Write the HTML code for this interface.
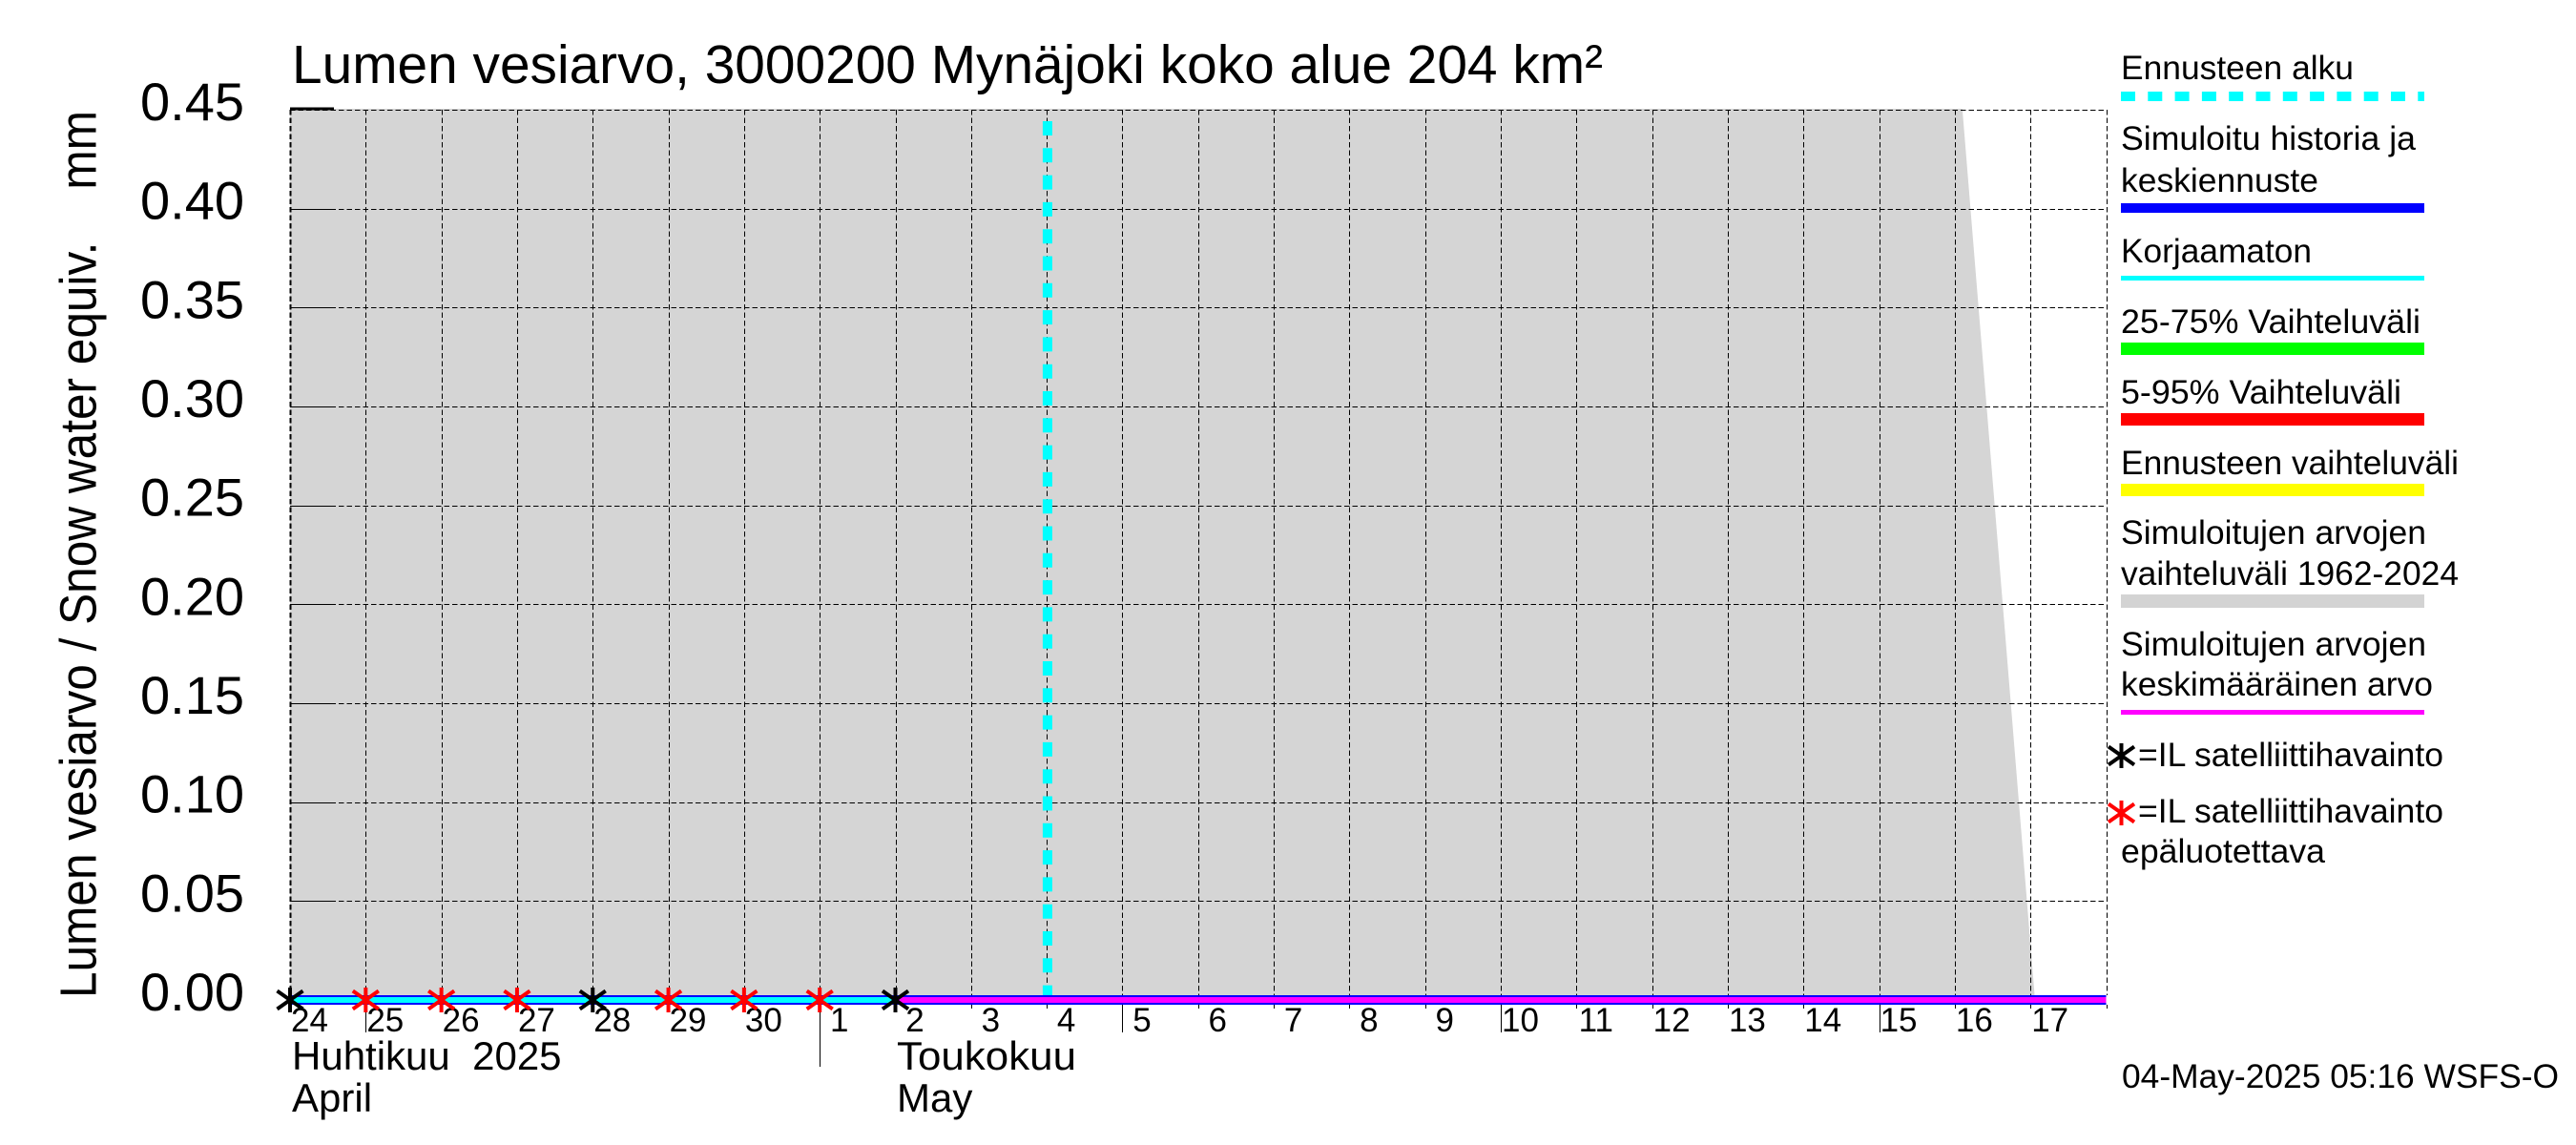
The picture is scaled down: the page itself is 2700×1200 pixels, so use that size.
<!DOCTYPE html>
<html lang="fi">
<head>
<meta charset="utf-8">
<title>Lumen vesiarvo</title>
<style>
html,body{margin:0;padding:0;background:#fff;width:2700px;height:1200px;overflow:hidden}
svg{display:block;position:absolute;left:0;top:0}
text{font-family:"Liberation Sans",Arial,sans-serif;fill:#000;white-space:pre}
</style>
</head>
<body>
<svg id="chart" xmlns="http://www.w3.org/2000/svg" width="2700" height="1200" viewBox="0 0 2700 1200">
  <text x="306" y="87" font-size="57" textLength="1374" lengthAdjust="spacingAndGlyphs">Lumen vesiarvo, 3000200 Mynäjoki koko alue 204 km²</text>
  <text transform="translate(100.5,1046) rotate(-90)" font-size="54" textLength="930" lengthAdjust="spacingAndGlyphs">Lumen vesiarvo / Snow water equiv.    mm</text>
  <g id="plot"></g>
  <g id="legend">
    <text x="2223" y="83" font-size="35" textLength="244" lengthAdjust="spacingAndGlyphs">Ennusteen alku</text>
    <line x1="2223" x2="2541" y1="101" y2="101" stroke="#00ffff" stroke-width="10" stroke-dasharray="15 13.3"/>
    <text x="2223" y="157" font-size="35" textLength="309" lengthAdjust="spacingAndGlyphs">Simuloitu historia ja</text>
    <text x="2223" y="201" font-size="35" textLength="207" lengthAdjust="spacingAndGlyphs">keskiennuste</text>
    <rect x="2223" y="213" width="318" height="10" fill="#0000ff"/>
    <text x="2223" y="275" font-size="35" textLength="200" lengthAdjust="spacingAndGlyphs">Korjaamaton</text>
    <rect x="2223" y="289" width="318" height="5" fill="#00ffff"/>
    <text x="2223" y="349" font-size="35" textLength="314" lengthAdjust="spacingAndGlyphs">25-75% Vaihteluväli</text>
    <rect x="2223" y="359" width="318" height="13" fill="#00ff00"/>
    <text x="2223" y="423" font-size="35" textLength="294" lengthAdjust="spacingAndGlyphs">5-95% Vaihteluväli</text>
    <rect x="2223" y="433" width="318" height="13" fill="#ff0000"/>
    <text x="2223" y="497" font-size="35" textLength="354" lengthAdjust="spacingAndGlyphs">Ennusteen vaihteluväli</text>
    <rect x="2223" y="507" width="318" height="13" fill="#ffff00"/>
    <text x="2223" y="570" font-size="35" textLength="320" lengthAdjust="spacingAndGlyphs">Simuloitujen arvojen</text>
    <text x="2223" y="613" font-size="35" textLength="354" lengthAdjust="spacingAndGlyphs">vaihteluväli 1962-2024</text>
    <rect x="2223" y="623" width="318" height="14" fill="#d3d3d3"/>
    <text x="2223" y="687" font-size="35" textLength="320" lengthAdjust="spacingAndGlyphs">Simuloitujen arvojen</text>
    <text x="2223" y="729" font-size="35" textLength="327" lengthAdjust="spacingAndGlyphs">keskimääräinen arvo</text>
    <rect x="2223" y="744" width="318" height="5" fill="#ff00ff"/>
    <g stroke="#000" stroke-width="4">
      <line x1="2223.5" x2="2223.5" y1="779" y2="805"/>
      <line x1="2210" x2="2237" y1="782.5" y2="801.5"/>
      <line x1="2210" x2="2237" y1="801.5" y2="782.5"/>
    </g>
    <text x="2241" y="803" font-size="35" textLength="320" lengthAdjust="spacingAndGlyphs">=IL satelliittihavainto</text>
    <g stroke="#ff0000" stroke-width="4">
      <line x1="2223.5" x2="2223.5" y1="839" y2="865"/>
      <line x1="2210" x2="2237" y1="842.5" y2="861.5"/>
      <line x1="2210" x2="2237" y1="861.5" y2="842.5"/>
    </g>
    <text x="2241" y="862" font-size="35" textLength="320" lengthAdjust="spacingAndGlyphs">=IL satelliittihavainto</text>
    <text x="2223" y="904" font-size="35" textLength="214" lengthAdjust="spacingAndGlyphs">epäluotettava</text>
  </g>
  <text x="306" y="1121" font-size="42">Huhtikuu  2025</text>
  <text x="306" y="1165" font-size="42">April</text>
  <text x="940" y="1121" font-size="42" textLength="188" lengthAdjust="spacingAndGlyphs">Toukokuu</text>
  <text x="940" y="1165" font-size="42">May</text>
  <text x="2224" y="1140" font-size="35" textLength="458" lengthAdjust="spacingAndGlyphs">04-May-2025 05:16 WSFS-O</text>
</svg>
<script>
// Axis content
const dayLabels = [24,25,26,27,28,29,30,1,2,3,4,5,6,7,8,9,10,11,12,13,14,15,16,17];
const longTickLabels = [25,5,10,15];
const monthBoundaryLabels = [1];
const yTickLabels = ["0.45","0.40","0.35","0.30","0.25","0.20","0.15","0.10","0.05","0.00"];
const yTickValues = [0.45,0.40,0.35,0.30,0.25,0.20,0.15,0.10,0.05,0.00];

// Series, x values are days since 24 April
const seriesDays = [0,1,2,3,4,5,6,7,8,9,10,11,12,13,14,15,16,17,18,19,20,21,22,23,24];
const simulatedValues = [0,0,0,0,0,0,0,0,0,0,0,0,0,0,0,0,0,0,0,0,0,0,0,0,0];
const uncorrectedDays = [0,1,2,3,4,5,6,7,8];
const uncorrectedValues = [0,0,0,0,0,0,0,0,0];
const meanDays = [8,9,10,11,12,13,14,15,16,17,18,19,20,21,22,23,24];
const meanValues = [0,0,0,0,0,0,0,0,0,0,0,0,0,0,0,0,0];
const rangeDays = [0,22.1,23.06];
const rangeUpperValues = [0.4505,0.4505,0];
const rangeLowerValues = [0,0,0];
const forecastStartDay = [10.01];
const satelliteDays = [0,4,8];
const satelliteValues = [0,0,0];
const unreliableDays = [1,2,3,5,6,7];
const unreliableValues = [0,0,0,0,0,0];

// Axis functions
const xDomainEnd = 24;
const plotLeft = 304, plotRight = 2207.5, plotTop = 115, plotBottom = 1048;
const yDomainTop = 0.45;
function xScale(d){ return plotLeft + d / xDomainEnd * (plotRight - plotLeft); }
function yScale(v){ return plotBottom - v / yDomainTop * (plotBottom - plotTop); }

const NS = "http://www.w3.org/2000/svg";
const plot = document.getElementById("plot");
function make(tag, attrs){
  const el = document.createElementNS(NS, tag);
  for (const k in attrs) el.setAttribute(k, attrs[k]);
  plot.appendChild(el);
  return el;
}
function polylinePoints(xs, ys){
  return xs.map((d, i) => xScale(d).toFixed(2) + "," + yScale(ys[i]).toFixed(2)).join(" ");
}

// Simulated range envelope
const upperPts = rangeDays.map((d, i) => xScale(d).toFixed(2) + "," + yScale(rangeUpperValues[i]).toFixed(2));
const lowerPts = rangeDays.map((d, i) => xScale(d).toFixed(2) + "," + yScale(rangeLowerValues[i]).toFixed(2)).reverse();
const rangeArea = make("polygon", {points: upperPts.concat(lowerPts).join(" "), fill: "#d5d5d5"});



// Horizontal grid and y ticks
yTickValues.forEach((v, i) => {
  const y = Math.round(yScale(v)) + 0.5;
  const grid = make("line", {x1: plotLeft, x2: plotRight, y1: y, y2: y, stroke: "#000", "stroke-width": 1, "stroke-dasharray": "5.5 3", "shape-rendering": "crispEdges"});
  
  
  const tick = make("line", {x1: plotLeft, x2: plotLeft + 46, y1: i === 0 ? y - 1.5 : y, y2: i === 0 ? y - 1.5 : y, stroke: "#000", "stroke-width": i === 0 ? 3 : 1, "shape-rendering": "crispEdges"});
  
  
  const label = make("text", {x: 256, y: yScale(v) + 11, "font-size": 56, "text-anchor": "end"});
  label.textContent = yTickLabels[i];
  
  
});

// Vertical grid, day ticks and labels
for (let i = 0; i <= xDomainEnd; i++) {
  const x = Math.round(xScale(i)) + 0.5;
  const grid = make("line", {x1: x, x2: x, y1: plotTop, y2: 1043, stroke: "#000", "stroke-width": i === 0 ? 2 : 1, "stroke-dasharray": "5.5 3", "shape-rendering": "crispEdges"});
  
  
  const stub = make("line", {x1: x, x2: x, y1: 1053, y2: 1057, stroke: "#000", "stroke-width": 1, "shape-rendering": "crispEdges"});
  
  
}
dayLabels.forEach((lab, i) => {
  const x = xScale(i);
  const tx = Math.round(x) + 0.5;
  if (longTickLabels.includes(lab) || monthBoundaryLabels.includes(lab)) {
    const tick = make("line", {x1: tx, x2: tx, y1: 1053, y2: monthBoundaryLabels.includes(lab) ? 1118 : 1082, stroke: "#000", "stroke-width": 1, "shape-rendering": "crispEdges"});
    
    
  }
  const label = make("text", {x: x + 20.5, y: 1081, "font-size": 35, "text-anchor": "middle"});
  label.textContent = lab;
  
  
});

// Forecast start line
const fx = xScale(forecastStartDay[0]);
const forecastLine = make("line", {x1: fx, x2: fx, y1: yScale(yDomainTop) + 12, y2: yScale(0) - 5, stroke: "#00ffff", "stroke-width": 10, "stroke-dasharray": "15 13.3"});



// Series lines
const simulatedLine = make("polyline", {points: polylinePoints(seriesDays, simulatedValues), fill: "none", stroke: "#0000ff", "stroke-width": 10, "shape-rendering": "crispEdges"});


const uncorrectedLine = make("polyline", {points: polylinePoints(uncorrectedDays, uncorrectedValues), fill: "none", stroke: "#00ffff", "stroke-width": 6, "shape-rendering": "crispEdges"});


const meanLine = make("polyline", {points: polylinePoints(meanDays, meanValues), fill: "none", stroke: "#ff00ff", "stroke-width": 6, "shape-rendering": "crispEdges"});



// Satellite markers
function drawStar(day, value, color){
  const cx = xScale(day), cy = yScale(value);
  const g = make("g", {stroke: color, "stroke-width": 4});
  const v = document.createElementNS(NS, "line");
  v.setAttribute("x1", cx); v.setAttribute("x2", cx); v.setAttribute("y1", cy - 13); v.setAttribute("y2", cy + 13);
  const d1 = document.createElementNS(NS, "line");
  d1.setAttribute("x1", cx - 13.5); d1.setAttribute("x2", cx + 13.5); d1.setAttribute("y1", cy - 9.5); d1.setAttribute("y2", cy + 9.5);
  const d2 = document.createElementNS(NS, "line");
  d2.setAttribute("x1", cx - 13.5); d2.setAttribute("x2", cx + 13.5); d2.setAttribute("y1", cy + 9.5); d2.setAttribute("y2", cy - 9.5);
  g.appendChild(v); g.appendChild(d1); g.appendChild(d2);
  return g;
}
satelliteDays.forEach((d, i) => {
  const star = drawStar(d, satelliteValues[i], "#000");
  
  
});
unreliableDays.forEach((d, i) => {
  const star = drawStar(d, unreliableValues[i], "#ff0000");
  
  
});
</script>
</body>
</html>
